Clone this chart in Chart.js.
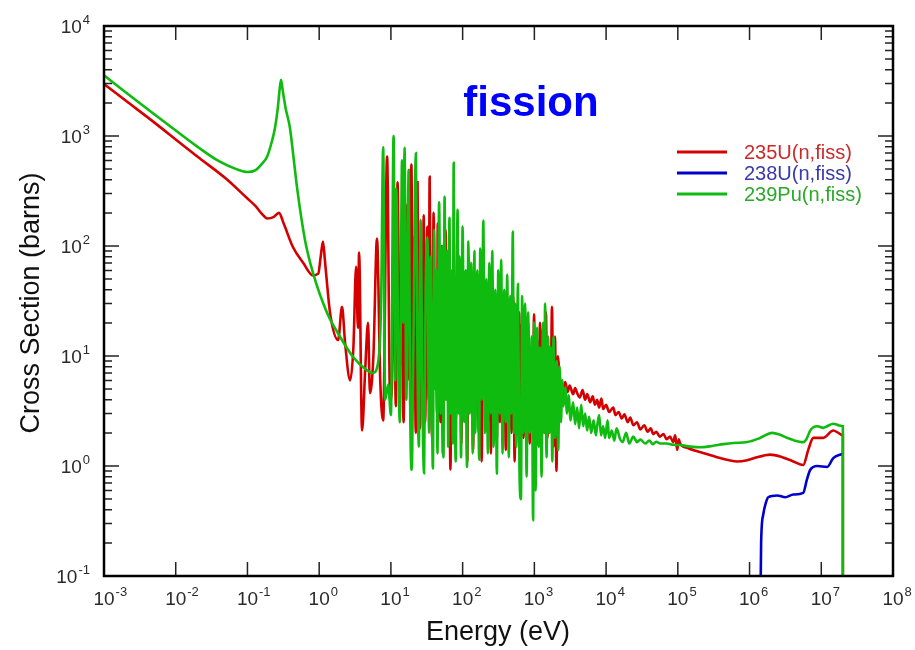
<!DOCTYPE html>
<html>
<head>
<meta charset="utf-8">
<script src="https://cdn.jsdelivr.net/npm/chart.js@4"></script>
<style>
  body { margin: 0; background: #fff; }
  canvas { display: block; }
</style>
</head>
<body>
<canvas id="grafica" width="915" height="650"></canvas>
<script>
// energias (eV) y secciones eficaces (barns)
const u235Energy = [
  0.001, 0.002, 0.005, 0.01, 0.02, 0.05, 0.1, 0.13, 0.16, 0.19, 0.23, 0.275, 0.32, 0.43, 0.6, 0.82, 0.97, 1.05, 1.13, 1.2,
  1.25, 1.42, 1.84, 2.08, 2.3, 2.7, 3.0, 3.27, 3.47, 3.6, 3.96, 4.4, 4.8, 5.1, 5.7, 6.4, 7.1, 7.8, 8.85, 9.75,
  10.3, 11.0, 11.7, 12.4, 12.9, 13.4, 14.0, 15.0, 16.1, 17.0, 18.0, 18.7, 19.3, 20.2, 21.1, 22.2, 23.5, 24.3, 25.5, 26.6,
  27.8, 28.6, 30.0, 31.5, 32.1, 33.5, 34.7, 36.0, 37.5, 39.4, 41.0, 42.0, 44.0, 45.0, 46.5, 47.5, 49.0, 51.0, 53.0, 55.9,
  58.0, 60.5, 63.0, 67.7, 70.0, 73.0, 76.0, 80.0, 85.0, 88.0, 92.0, 96.0, 100, 105, 110, 116, 122, 128, 135, 140,
  146, 152, 160, 168, 176, 184, 194, 200, 214, 225, 235, 248, 259, 270, 285, 300, 314, 330, 345, 360,
  380, 400, 418, 440, 460, 480, 507, 530, 558, 585, 614, 640, 675, 705, 743, 780, 818, 860, 900, 950,
  991, 1040, 1090, 1150, 1200, 1260, 1320, 1380, 1450, 1520, 1600, 1680, 1760, 1850, 1940, 2030, 2130, 2250,
  2350, 2500, 2700, 2900, 3100, 3470, 3700, 3950, 4300, 4700, 5100, 5450, 6000, 6500, 7000, 7500, 8000, 8600, 9100, 10000,
  11000, 12600, 13500, 15000, 16500, 18000, 20000, 21700, 24000, 27000, 30000, 34000, 38000, 42000, 45400, 50000, 56000, 63000, 70000, 78000,
  86000, 92000, 98000, 103000, 108000, 140000, 187000, 260000, 390000, 670000, 930000, 1.12e6, 1.94e6, 2.68e6, 4.07e6, 5.6e6, 6.6e6, 7.75e6, 1.07e7, 1.47e7,
  1.73e7, 2.0e7, 2.0e7
];
const u235Sigma = [
  2970, 2100, 1330, 930, 650, 410, 270, 230, 195, 178, 183, 200, 160, 98, 70, 54, 56, 80, 110, 75,
  56, 24.5, 14, 28, 13, 6.0, 12, 65, 18, 87, 2.1, 8, 20, 4.6, 10, 117, 6.0, 2.6, 650, 4.0,
  5, 120, 3.5, 380, 40, 8, 60, 2.5, 240, 6, 150, 3, 550, 8, 120, 2.0, 380, 15, 2.2, 70,
  5, 190, 2.5, 60, 150, 4, 425, 12, 1.8, 200, 6, 30, 3, 160, 8, 70, 2.5, 100, 1.3, 60,
  140, 5, 90, 0.93, 25, 3, 55, 2.5, 75, 8, 40, 1.6, 60, 3, 30, 1.1, 78, 4, 45, 1.4,
  35, 6, 49, 2, 25, 1.1, 51, 8, 30, 2.5, 40, 1.3, 50, 3, 18, 1.7, 35, 2.5, 37, 4,
  18, 1.4, 20, 3, 30, 2, 35, 1.1, 22, 3, 25, 2.2, 20, 1.8, 15, 3, 20, 1.6, 12, 2.5,
  24, 1.4, 14, 3, 20, 1.6, 18, 3.5, 25, 1.8, 12, 2.5, 28, 1.5, 15, 0.9, 10, 6.5,
  5.8, 5.0, 5.8, 4.7, 5.4, 4.5, 5.1, 4.6, 4.2, 4.9, 4.0, 4.5, 3.8, 4.3, 3.6, 4.0, 3.4, 4.1, 3.3, 3.6,
  3.1, 3.4, 2.9, 3.1, 2.7, 2.95, 2.5, 2.75, 2.35, 2.5, 2.15, 2.35, 2.05, 2.2, 1.95, 2.05, 1.85, 1.95, 1.75, 1.85,
  1.65, 1.9, 1.4, 1.75, 1.6, 1.45, 1.36, 1.28, 1.18, 1.1, 1.13, 1.17, 1.27, 1.22, 1.1, 1.02, 1.41, 1.8, 1.8, 2.1,
  2.0, 1.9, 0.01
];

const u238Energy = [1.38e6, 1.45e6, 1.55e6, 1.7e6, 1.82e6, 2.43e6, 3.15e6, 4.07e6, 5.6e6, 6.3e6, 7.0e6, 8.8e6, 1.21e7, 1.47e7, 1.96e7, 2.0e7];
const u238Sigma = [0.01, 0.2, 0.36, 0.47, 0.52, 0.54, 0.52, 0.55, 0.57, 0.75, 0.92, 1.0, 0.98, 1.18, 1.29, 1.3];

const pu239Energy = [
  0.001, 0.002, 0.005, 0.01, 0.02, 0.04, 0.07, 0.1, 0.13, 0.16, 0.187, 0.22, 0.243, 0.265, 0.28, 0.294, 0.31, 0.34, 0.39, 0.44,
  0.49, 0.635, 0.82, 1.29, 1.95, 2.97, 4.66, 5.6, 6.6, 7.3, 7.8, 8.3, 9.2, 10.0, 10.9, 11.5, 11.9, 12.6, 13.3, 14.3,
  14.9, 15.5, 16.4, 17.7, 18.6, 19.5, 20.5, 22.3, 23.5, 24.5, 26.0, 27.5, 29.0, 30.5, 32.3, 34.0, 35.5, 37.0, 38.5, 40.0,
  41.5, 43.0, 44.5, 47.0, 49.5, 52.0, 54.0, 56, 58.5, 60.5, 63, 65.5, 68, 71, 73, 75, 78, 80, 85, 88,
  90.5, 95, 100, 105, 110, 115, 120, 126, 132, 138, 146, 150, 160, 170, 176, 185, 194, 205, 214, 225,
  235, 248, 259, 270, 285, 300, 314, 330, 345, 360, 380, 400, 418, 440, 460, 480, 500, 520, 540, 560,
  590, 620, 650, 675, 705, 743, 780, 818, 860, 920, 960, 991, 1040, 1090, 1150, 1200, 1260, 1320, 1380, 1410,
  1480, 1550, 1620, 1700, 1780, 1850, 1940, 2050, 2150, 2250, 2350, 2450,
  2550, 2700, 2850, 3000, 3200, 3470, 3700, 3950, 4200, 4500, 4800, 5100, 5450, 5800, 6200, 6700, 7200, 7500, 8000, 8500,
  9100, 9700, 10500, 11000, 12000, 13000, 14000, 15700, 17000, 19000, 21000, 24000, 27000, 30000, 35000, 40000, 45000, 50000, 57000, 70000,
  86000, 108000, 150000, 205000, 300000, 430000, 600000, 930000, 1.4e6, 2.07e6, 2.68e6, 3.36e6, 4.07e6, 5.6e6, 6.2e6, 7.0e6, 7.75e6, 8.8e6, 1.07e7, 1.21e7,
  1.47e7, 1.73e7, 2.0e7, 2.0e7
];
const pu239Sigma = [
  3560, 2500, 1580, 1120, 800, 590, 500, 470, 490, 560, 645, 900, 1200, 1800, 2600, 3240, 2600, 1800, 1200, 630,
  345, 113, 57, 24.6, 15, 9.8, 7.4, 7.0, 8.6, 30, 790, 4.0, 5.5, 2.9, 1000, 6, 330, 15, 2.5, 600,
  20, 780, 4, 490, 3, 0.92, 10, 700, 8, 1.5, 172, 4, 0.86, 40, 120, 2, 80, 6, 0.95, 140,
  5, 60, 1.3, 250, 3, 100, 1.2, 280, 4, 90, 1.5, 180, 3, 60, 1.6, 570, 4, 1.1, 213, 3,
  80, 1.2, 150, 2.5, 60, 0.98, 110, 3, 70, 1.3, 90, 2, 60, 1.14, 95, 4, 170, 2, 50, 1.3,
  70, 3, 90, 1.5, 40, 0.85, 60, 3, 75, 1.3, 40, 2.5, 55, 1.2, 35, 3, 135, 2, 30, 1.5,
  45, 0.9, 0.5, 35, 2, 30, 0.8, 25, 2, 15, 0.32, 20, 0.6, 18, 1.5, 12, 0.8, 20, 2, 30,
  1.2, 15, 2, 12, 1.1, 15, 1.8, 9, 1.4, 8, 2.5, 6,
  3.5, 5.2, 3.0, 4.4, 2.6, 3.8, 2.4, 3.4, 2.2, 3.6, 2.3, 3.0, 2.1, 2.8, 2.0, 2.6, 1.9, 2.3, 2.9, 1.9,
  2.3, 1.8, 2.6, 1.8, 2.1, 1.7, 2.2, 1.75, 1.65, 2.0, 1.6, 1.85, 1.65, 1.74, 1.6, 1.7, 1.58, 1.66, 1.6, 1.6,
  1.56, 1.55, 1.5, 1.48, 1.52, 1.58, 1.62, 1.65, 1.8, 2.0, 1.92, 1.8, 1.72, 1.65, 1.75, 2.1, 2.25, 2.3, 2.22, 2.3,
  2.42, 2.35, 2.3, 0.01
];

const seriesNames = ['235U(n,fiss)', '238U(n,fiss)', '239Pu(n,fiss)'];
const xTickExps = [-3, -2, -1, 0, 1, 2, 3, 4, 5, 6, 7, 8];
const yTickExps = [-1, 0, 1, 2, 3, 4];

const lineColors = ['#d40000', '#0000cc', '#10bb10'];
const textColors = ['#cc2a2a', '#3a3aaa', '#2aa82a'];

function puntos(ex, ys) {
  return ex.map((e, i) => ({ x: e, y: ys[i] }));
}

function potencia(ctx, exp, x, y, align) {
  // dibuja "10" con exponente en superindice
  const base = '10', sup = String(exp);
  ctx.font = '19px "Liberation Sans", Arial, sans-serif';
  const wb = ctx.measureText(base).width;
  ctx.font = '13px "Liberation Sans", Arial, sans-serif';
  const ws = ctx.measureText(sup).width;
  let x0 = x;
  if (align === 'right') x0 = x - wb - ws - 1;
  if (align === 'center') x0 = x - wb / 2;
  ctx.textAlign = 'left';
  ctx.textBaseline = 'alphabetic';
  ctx.font = '19px "Liberation Sans", Arial, sans-serif';
  ctx.fillText(base, x0, y);
  ctx.font = '13px "Liberation Sans", Arial, sans-serif';
  ctx.fillText(sup, x0 + wb + 1, y - 9);
}

const marco = {
  id: 'marco',
  afterDraw(chart) {
    const ctx = chart.ctx;
    const a = chart.chartArea;
    const sx = chart.scales.x, sy = chart.scales.y;
    ctx.save();

    // marcas hacia dentro
    ctx.strokeStyle = '#222';
    ctx.lineWidth = 1.5;
    ctx.beginPath();
    xTickExps.forEach(k => {
      const px = sx.getPixelForValue(Math.pow(10, k));
      ctx.moveTo(px, a.bottom); ctx.lineTo(px, a.bottom - 14);
      ctx.moveTo(px, a.top); ctx.lineTo(px, a.top + 14);
    });
    yTickExps.forEach(k => {
      for (let m = 1; m <= 9; m++) {
        const v = m * Math.pow(10, k);
        if (v > 1e4 * 1.0001) continue;
        const py = sy.getPixelForValue(v);
        const len = m === 1 ? 15 : 8;
        ctx.moveTo(a.left, py); ctx.lineTo(a.left + len, py);
        ctx.moveTo(a.right, py); ctx.lineTo(a.right - len, py);
      }
    });
    ctx.stroke();

    ctx.strokeStyle = '#000';
    ctx.lineWidth = 2.5;
    ctx.strokeRect(a.left, a.top, a.right - a.left, a.bottom - a.top);

    // etiquetas de los ejes
    ctx.fillStyle = '#2a2a2a';
    xTickExps.forEach(k => {
      potencia(ctx, k, sx.getPixelForValue(Math.pow(10, k)), a.bottom + 29, 'center');
    });
    yTickExps.forEach(k => {
      potencia(ctx, k, 90, sy.getPixelForValue(Math.pow(10, k)) + 7, 'right');
    });

    ctx.fillStyle = '#111';
    ctx.font = '27px "Liberation Sans", Arial, sans-serif';
    ctx.textAlign = 'center';
    ctx.textBaseline = 'middle';
    ctx.fillText('Energy (eV)', 498, 633);
    ctx.save();
    ctx.translate(32, 303);
    ctx.rotate(-Math.PI / 2);
    ctx.fillText('Cross Section (barns)', 0, 0);
    ctx.restore();

    // titulo
    ctx.fillStyle = '#0000ff';
    ctx.font = 'bold 42px "Liberation Sans", Arial, sans-serif';
    ctx.textAlign = 'center';
    ctx.textBaseline = 'alphabetic';
    ctx.fillText('fission', 531, 116);

    // leyenda
    ctx.lineWidth = 3;
    ctx.font = '20px "Liberation Sans", Arial, sans-serif';
    ctx.textAlign = 'left';
    ctx.textBaseline = 'middle';
    seriesNames.forEach((n, i) => {
      const ly = 152 + i * 21;
      ctx.strokeStyle = lineColors[i];
      ctx.beginPath();
      ctx.moveTo(677, ly); ctx.lineTo(727, ly);
      ctx.stroke();
      ctx.fillStyle = textColors[i];
      ctx.fillText(n, 744, ly + 1);
    });

    ctx.restore();
  }
};

const ctx = document.getElementById('grafica').getContext('2d');

new Chart(ctx, {
  type: 'line',
  data: {
    datasets: [
      { label: seriesNames[0], data: puntos(u235Energy, u235Sigma), borderColor: lineColors[0], order: 3 },
      { label: seriesNames[1], data: puntos(u238Energy, u238Sigma), borderColor: lineColors[1], order: 2 },
      { label: seriesNames[2], data: puntos(pu239Energy, pu239Sigma), borderColor: lineColors[2], order: 1 }
    ]
  },
  options: {
    responsive: false,
    animation: false,
    devicePixelRatio: 1,
    layout: { padding: { left: 104, top: 26, right: 22, bottom: 74 } },
    elements: {
      point: { radius: 0 },
      line: { borderWidth: 2.6, tension: 0, cubicInterpolationMode: 'monotone', fill: false }
    },
    scales: {
      x: { type: 'logarithmic', min: 1e-3, max: 1e8, display: false },
      y: { type: 'logarithmic', min: 0.1, max: 1e4, display: false }
    },
    plugins: {
      legend: { display: false },
      tooltip: { enabled: false }
    }
  },
  plugins: [marco]
});
</script>
</body>
</html>
